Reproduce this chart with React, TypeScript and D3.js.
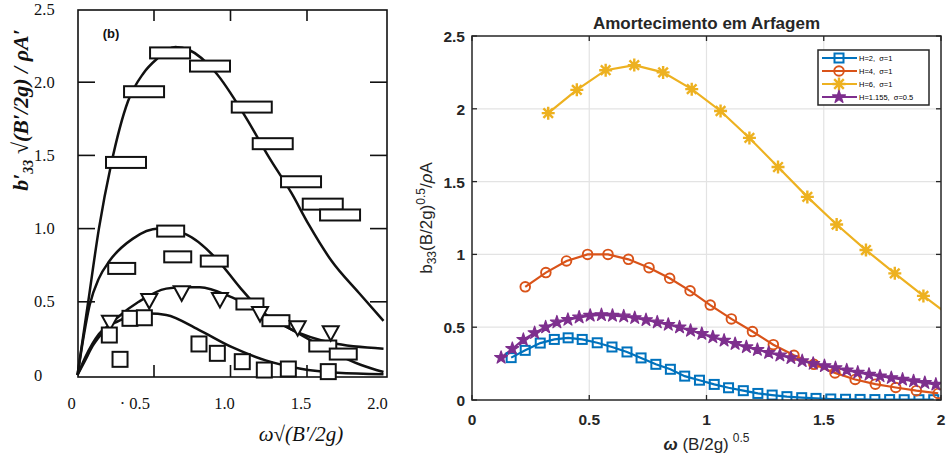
import React from "react";
import * as d3 from "d3";

// ---------- Left panel (scanned figure) data ----------
const curveAX = [0, 0.07, 0.14, 0.22, 0.33, 0.43, 0.52, 0.64, 0.73, 0.9, 1.1, 1.25, 1.4, 1.51, 1.66, 1.84, 2.0];
const curveAY = [0, 0.5, 1.0, 1.44, 1.87, 2.06, 2.16, 2.24, 2.22, 2.07, 1.76, 1.49, 1.24, 1.03, 0.78, 0.56, 0.37];
const curveBX = [0, 0.03, 0.08, 0.14, 0.21, 0.36, 0.53, 0.71, 0.92, 1.06, 1.21, 1.4, 1.66, 2.0];
const curveBY = [0, 0.2, 0.48, 0.66, 0.78, 0.93, 1.0, 0.96, 0.78, 0.6, 0.43, 0.31, 0.22, 0.18];
const curveCX = [0, 0.05, 0.1, 0.18, 0.27, 0.4, 0.58, 0.7, 0.8, 1.01, 1.23, 1.45, 1.66, 1.85, 2.0];
const curveCY = [0, 0.1, 0.2, 0.31, 0.4, 0.5, 0.59, 0.6, 0.6, 0.53, 0.41, 0.28, 0.16, 0.07, 0.02];
const curveDX = [0, 0.05, 0.14, 0.27, 0.37, 0.47, 0.58, 0.79, 1.01, 1.23, 1.45, 1.7, 2.0];
const curveDY = [0, 0.12, 0.28, 0.37, 0.41, 0.42, 0.41, 0.31, 0.19, 0.1, 0.045, 0.015, 0.005];

const rectAX = [0.317, 0.435, 0.605, 0.866, 1.139, 1.276, 1.461, 1.603, 1.716];
const rectAY = [1.452, 1.935, 2.2, 2.11, 1.83, 1.58, 1.32, 1.167, 1.093];
const rectBX = [0.289, 0.609, 0.655, 0.894, 1.127, 1.297, 1.603, 1.737];
const rectBY = [0.728, 0.983, 0.807, 0.778, 0.485, 0.371, 0.198, 0.143];
const triX = [0.212, 0.469, 0.681, 0.931, 1.193, 1.439, 1.655];
const triY = [0.357, 0.505, 0.558, 0.512, 0.416, 0.319, 0.285];
const sqX = [0.208, 0.278, 0.343, 0.437, 0.794, 0.914, 1.077, 1.221, 1.378, 1.639];
const sqY = [0.273, 0.107, 0.387, 0.391, 0.212, 0.148, 0.091, 0.034, 0.041, 0.023];

const leftXTicks = [0, 0.5, 1.0, 1.5, 2.0];
const leftXTickLabels = ["0", "· 0.5", "1.0", "1.5", "2.0"];
const leftYTicks = [0, 0.5, 1.0, 1.5, 2.0, 2.5];
const leftYTickLabels = ["0", "0.5", "1.0", "1.5", "2.0", "2.5"];
const leftInnerTicksX = [0.5, 1.0, 1.5];
const leftInnerTicksY = [0.5, 1.0, 1.5, 2.0];

// ---------- Right panel (MATLAB) data ----------
const blueX = [0.167, 0.227, 0.291, 0.351, 0.41, 0.47, 0.534, 0.597, 0.661, 0.721, 0.784, 0.846, 0.907, 0.97, 1.033, 1.094, 1.157, 1.219, 1.28, 1.343, 1.406, 1.467, 1.53, 1.593, 1.655, 1.718, 1.781, 1.843, 1.906, 1.969];
const blueY = [0.291, 0.341, 0.391, 0.416, 0.427, 0.416, 0.393, 0.364, 0.33, 0.289, 0.245, 0.211, 0.164, 0.136, 0.107, 0.084, 0.064, 0.045, 0.034, 0.023, 0.016, 0.011, 0.007, 0.005, 0.004, 0.003, 0.003, 0.002, 0.002, 0.002];
const orangeX = [0.227, 0.315, 0.403, 0.493, 0.58, 0.667, 0.755, 0.843, 0.93, 1.016, 1.106, 1.196, 1.285, 1.373, 1.458, 1.548, 1.634, 1.72, 1.807, 1.895, 1.988];
const orangeY = [0.777, 0.875, 0.955, 1.0, 1.0, 0.966, 0.909, 0.836, 0.75, 0.652, 0.557, 0.47, 0.38, 0.307, 0.245, 0.186, 0.141, 0.109, 0.086, 0.064, 0.045];
const yellowX = [0.325, 0.447, 0.57, 0.692, 0.815, 0.937, 1.06, 1.183, 1.305, 1.43, 1.555, 1.68, 1.803, 1.925, 2.048];
const yellowY = [1.97, 2.13, 2.265, 2.3, 2.25, 2.135, 1.985, 1.8, 1.6, 1.395, 1.205, 1.03, 0.87, 0.715, 0.565];
const purpleX = [0.124, 0.172, 0.219, 0.267, 0.314, 0.362, 0.409, 0.457, 0.504, 0.552, 0.599, 0.647, 0.694, 0.742, 0.79, 0.837, 0.885, 0.932, 0.98, 1.027, 1.075, 1.122, 1.17, 1.217, 1.265, 1.313, 1.36, 1.408, 1.455, 1.503, 1.55, 1.598, 1.645, 1.693, 1.74, 1.788, 1.836, 1.883, 1.931, 1.978];
const purpleY = [0.291, 0.352, 0.414, 0.461, 0.5, 0.534, 0.552, 0.568, 0.58, 0.584, 0.58, 0.575, 0.564, 0.55, 0.534, 0.518, 0.5, 0.477, 0.455, 0.432, 0.409, 0.386, 0.364, 0.345, 0.325, 0.307, 0.289, 0.268, 0.25, 0.234, 0.22, 0.205, 0.189, 0.175, 0.164, 0.152, 0.141, 0.13, 0.118, 0.107];

const seriesNames = ["H=2,  σ=1", "H=4,  σ=1", "H=6,  σ=1", "H=1.155,  σ=0.5"];
const seriesColors = ["#0072BD", "#D95319", "#EDB120", "#7E2F8E"];
const seriesMarkers = ["square", "circle", "asterisk", "pentagram"];
const rightXTicks = [0, 0.5, 1, 1.5, 2];
const rightXTickLabels = ["0", "0.5", "1", "1.5", "2"];
const rightYTicks = [0, 0.5, 1, 1.5, 2, 2.5];
const rightYTickLabels = ["0", "0.5", "1", "1.5", "2", "2.5"];
const titleText = "Amortecimento em Arfagem";

const zip = (xs: number[], ys: number[]) => xs.map((x, i) => [x, ys[i]] as [number, number]);

function pentagramPath(R: number) {
  const r = R * 0.382;
  const pts: string[] = [];
  for (let i = 0; i < 10; i++) {
    const a = -Math.PI / 2 + (i * Math.PI) / 5;
    const rad = i % 2 === 0 ? R : r;
    pts.push(`${(rad * Math.cos(a)).toFixed(2)},${(rad * Math.sin(a)).toFixed(2)}`);
  }
  return "M" + pts.join("L") + "Z";
}

function Marker({ type, color, x, y }: { type: string; color: string; x: number; y: number }) {
  if (type === "square")
    return <rect x={x - 4.5} y={y - 4.5} width={9} height={9} fill="none" stroke={color} strokeWidth={2} />;
  if (type === "circle")
    return <circle cx={x} cy={y} r={4.8} fill="none" stroke={color} strokeWidth={1.9} />;
  if (type === "asterisk") {
    const s = 6.5, d = 4.8;
    return (
      <path
        transform={`translate(${x},${y})`}
        d={`M${-s},0L${s},0M0,${-s}L0,${s}M${-d},${-d}L${d},${d}M${-d},${d}L${d},${-d}`}
        stroke={color}
        strokeWidth={2.4}
        fill="none"
      />
    );
  }
  return <path transform={`translate(${x},${y})`} d={pentagramPath(6.8)} fill={color} stroke={color} strokeWidth={1.2} strokeLinejoin="round" />;
}

export default function App() {
  const W = 948, H = 457;

  // Left scales
  const xL = d3.scaleLinear().domain([0, 2]).range([77.5, 383.5]);
  const yL = d3.scaleLinear().domain([0, 2.5]).range([375, 9]);
  const lineL = d3.line<[number, number]>().x((d) => xL(d[0])).y((d) => yL(d[1])).curve(d3.curveMonotoneX);
  const leftCurves = [zip(curveAX, curveAY), zip(curveBX, curveBY), zip(curveCX, curveCY), zip(curveDX, curveDY)];
  const frameL = { x0: 78, x1: 387, y0: 10, y1: 377 };

  // Right scales
  const xR = d3.scaleLinear().domain([0, 2]).range([472, 941]);
  const yR = d3.scaleLinear().domain([0, 2.5]).range([400, 36]);
  const lineR = d3.line<[number, number]>().x((d) => xR(d[0])).y((d) => yR(d[1]));
  const rightSeries = [zip(blueX, blueY), zip(orangeX, orangeY), zip(yellowX, yellowY), zip(purpleX, purpleY)];
  const axisColor = "#262626";

  const legend = { x: 818, y: 50, w: 111, h: 55, row: 13 };

  return (
    <div style={{ position: "absolute", left: 0, top: 0, width: W, height: H, background: "#fff" }}>
      <svg width={W} height={H} viewBox={`0 0 ${W} ${H}`} style={{ display: "block" }}>
        <rect x={0} y={0} width={W} height={H} fill="#fff" />
        <defs>
          <clipPath id="rclip">
            <rect x={xR(0)} y={yR(2.5)} width={xR(2) - xR(0)} height={yR(0) - yR(2.5)} />
          </clipPath>
        </defs>

        {/* ================= LEFT PANEL ================= */}
        <g fontFamily="'Liberation Serif', 'DejaVu Serif', serif" fill="#111">
          <rect x={frameL.x0} y={frameL.y0} width={frameL.x1 - frameL.x0} height={frameL.y1 - frameL.y0} fill="none" stroke="#111" strokeWidth={1.6} />
          {leftInnerTicksX.map((t) => (
            <g key={"lxt" + t}>
              <line x1={xL(t)} x2={xL(t)} y1={frameL.y0} y2={frameL.y0 + 11} stroke="#111" strokeWidth={1.6} />
              <line x1={xL(t)} x2={xL(t)} y1={frameL.y1} y2={frameL.y1 - 12} stroke="#111" strokeWidth={1.6} />
            </g>
          ))}
          {leftInnerTicksY.map((t) => (
            <g key={"lyt" + t}>
              <line x1={frameL.x0} x2={frameL.x0 + 17} y1={yL(t)} y2={yL(t)} stroke="#111" strokeWidth={1.6} />
              <line x1={frameL.x1} x2={frameL.x1 - 17} y1={yL(t)} y2={yL(t)} stroke="#111" strokeWidth={1.6} />
            </g>
          ))}
          {leftXTicks.map((t, i) => {
            const lab = leftXTickLabels[i];
            const special = lab.startsWith("·");
            return (
              <text key={"lxl" + t} x={special ? xL(t) - 4 : xL(t) - 6} y={409} fontSize={16.5} textAnchor={special ? "end" : "middle"}>
                {lab}
              </text>
            );
          })}
          {leftYTicks.map((t, i) => (
            <text key={"lyl" + t} x={34} y={Math.max(yL(t) + 5.5, 14)} fontSize={16.5} textAnchor="start">
              {leftYTickLabels[i]}
            </text>
          ))}
          {leftCurves.map((c, i) => (
            <path key={"lc" + i} d={lineL(c) || ""} fill="none" stroke="#111" strokeWidth={2.5} />
          ))}
          {rectAX.map((x, i) => (
            <rect key={"ra" + i} x={xL(x) - 20} y={yL(rectAY[i]) - 5.5} width={40} height={11} fill="#fff" stroke="#111" strokeWidth={2} />
          ))}
          {rectBX.map((x, i) => (
            <rect key={"rb" + i} x={xL(x) - 13.5} y={yL(rectBY[i]) - 5.5} width={27} height={11} fill="#fff" stroke="#111" strokeWidth={2} />
          ))}
          {triX.map((x, i) => (
            <path key={"tr" + i} transform={`translate(${xL(x)},${yL(triY[i])})`} d="M-8,-7L8,-7L0,7.5Z" fill="#fff" stroke="#111" strokeWidth={2} />
          ))}
          {sqX.map((x, i) => (
            <rect key={"sq" + i} x={xL(x) - 7.5} y={yL(sqY[i]) - 7.5} width={15} height={15} fill="#fff" stroke="#111" strokeWidth={2} />
          ))}
          <text x={111} y={38} fontSize={13} fontWeight="bold" textAnchor="middle" fontFamily="'Liberation Sans', Arial, sans-serif">(b)</text>
          <text transform={`translate(28,110) rotate(-90)`} fontSize={22} fontWeight="bold" fontStyle="italic" textAnchor="middle">
            b′<tspan dy={5} fontSize={14}>33</tspan>
            <tspan dy={-5}> √(B′/2g) / ρA′</tspan>
          </text>
          <text x={301} y={441} fontSize={21} fontStyle="italic" textAnchor="middle">ω√(B′/2g)</text>
        </g>

        {/* ================= RIGHT PANEL ================= */}
        <g fontFamily="'Liberation Sans', Arial, Helvetica, sans-serif">
          {rightXTicks.slice(1, -1).map((t) => (
            <line key={"gx" + t} x1={xR(t)} x2={xR(t)} y1={yR(0)} y2={yR(2.5)} stroke="#e3e3e3" strokeWidth={1.2} />
          ))}
          {rightYTicks.slice(1, -1).map((t) => (
            <line key={"gy" + t} x1={xR(0)} x2={xR(2)} y1={yR(t)} y2={yR(t)} stroke="#e3e3e3" strokeWidth={1.2} />
          ))}
          <g clipPath="url(#rclip)">
            {rightSeries.map((s, i) => (
              <path key={"rl" + i} d={lineR(s) || ""} fill="none" stroke={seriesColors[i]} strokeWidth={2.2} />
            ))}
            {rightSeries.map((s, i) =>
              s.map((p, j) => <Marker key={`m${i}-${j}`} type={seriesMarkers[i]} color={seriesColors[i]} x={xR(p[0])} y={yR(p[1])} />)
            )}
          </g>
          <rect x={xR(0)} y={yR(2.5)} width={xR(2) - xR(0)} height={yR(0) - yR(2.5)} fill="none" stroke={axisColor} strokeWidth={1.5} />
          {rightXTicks.map((t) => (
            <g key={"rxt" + t}>
              <line x1={xR(t)} x2={xR(t)} y1={yR(0)} y2={yR(0) - 5} stroke={axisColor} strokeWidth={1.3} />
              <line x1={xR(t)} x2={xR(t)} y1={yR(2.5)} y2={yR(2.5) + 5} stroke={axisColor} strokeWidth={1.3} />
            </g>
          ))}
          {rightYTicks.map((t) => (
            <g key={"ryt" + t}>
              <line x1={xR(0)} x2={xR(0) + 5} y1={yR(t)} y2={yR(t)} stroke={axisColor} strokeWidth={1.3} />
              <line x1={xR(2)} x2={xR(2) - 5} y1={yR(t)} y2={yR(t)} stroke={axisColor} strokeWidth={1.3} />
            </g>
          ))}
          {rightXTicks.map((t, i) => (
            <text key={"rxl" + t} x={xR(t)} y={yR(0) + 24.5} fontSize={15.5} fontWeight="bold" fill={axisColor} textAnchor="middle">
              {rightXTickLabels[i]}
            </text>
          ))}
          {rightYTicks.map((t, i) => (
            <text key={"ryl" + t} x={xR(0) - 7} y={yR(t) + 6} fontSize={15.5} fontWeight="bold" fill={axisColor} textAnchor="end">
              {rightYTickLabels[i]}
            </text>
          ))}
          <text x={(xR(0) + xR(2)) / 2} y={29} fontSize={17} fontWeight="bold" fill={axisColor} textAnchor="middle">
            {titleText}
          </text>
          <text x={(xR(0) + xR(2)) / 2} y={450} fontSize={17} fill={axisColor} textAnchor="middle">
            <tspan fontWeight="bold" fontStyle="italic">ω</tspan>
            <tspan> (B/2g)</tspan>
            <tspan dx={4} dy={-8} fontSize={12}>0.5</tspan>
          </text>
          <text transform={`translate(432,${(yR(0) + yR(2.5)) / 2}) rotate(-90)`} fontSize={17} fill={axisColor} textAnchor="middle">
            b<tspan dy={4} fontSize={12}>33</tspan>
            <tspan dy={-4}>(B/2g)</tspan>
            <tspan dy={-7} fontSize={12}>0.5</tspan>
            <tspan dy={7}>/</tspan>
            <tspan fontStyle="italic">ρ</tspan>
            <tspan>A</tspan>
          </text>
          <rect x={legend.x} y={legend.y} width={legend.w} height={legend.h} fill="#fff" stroke={axisColor} strokeWidth={1.5} />
          {seriesNames.map((name, i) => {
            const cy = legend.y + 8 + i * legend.row;
            return (
              <g key={"lg" + i}>
                <line x1={legend.x + 4} x2={legend.x + 39} y1={cy} y2={cy} stroke={seriesColors[i]} strokeWidth={2} />
                <Marker type={seriesMarkers[i]} color={seriesColors[i]} x={legend.x + 21} y={cy} />
                <text x={legend.x + 41} y={cy + 2.8} fontSize={7.5} fill="#000" style={{ whiteSpace: "pre" }}>
                  {name}
                </text>
              </g>
            );
          })}
        </g>
      </svg>
    </div>
  );
}
